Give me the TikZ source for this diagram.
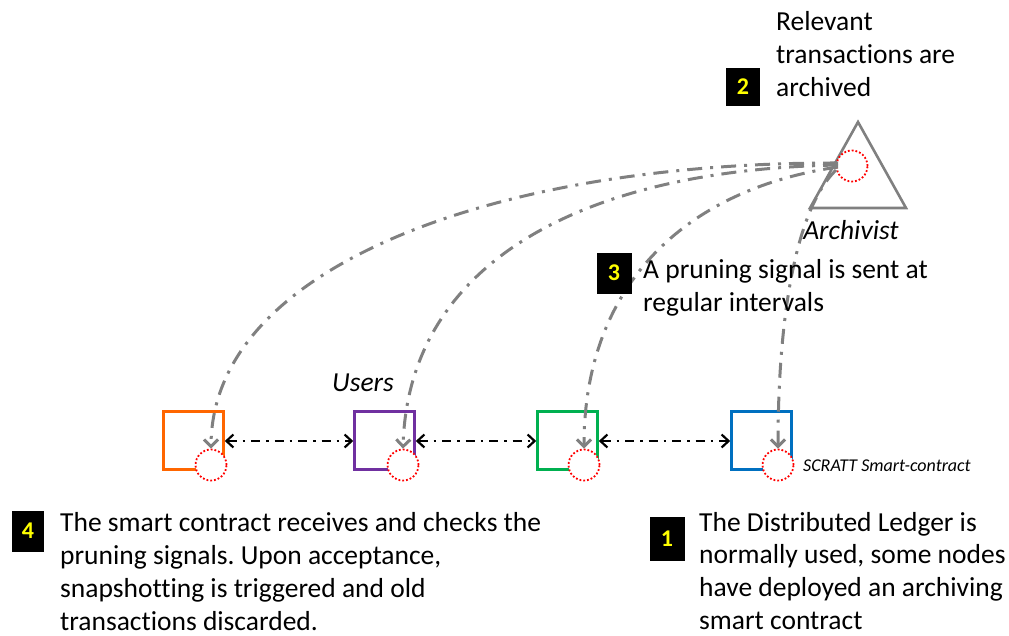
\documentclass[tikz,border=0pt]{standalone}
\usepackage{fontspec}
\setmainfont{Carlito}[Ligatures=NoCommon]
\frenchspacing
\usetikzlibrary{arrows.meta}
\definecolor{corange}{RGB}{255,102,0}
\definecolor{cpurple}{RGB}{112,48,160}
\definecolor{cgreen}{RGB}{0,176,80}
\definecolor{cblue}{RGB}{0,112,192}
\definecolor{cgray}{RGB}{128,128,128}
\definecolor{cyel}{RGB}{255,255,0}
\tikzset{
  ledger/.style={draw=#1, line width=2.6pt, minimum width=60pt, minimum height=58pt, inner sep=0pt},
  sc/.style={draw=red, fill=white, circle, dotted, line width=1.8pt, minimum size=31pt, inner sep=0pt},
  badge/.style={fill=black, text=cyel, font=\fontsize{24}{24}\selectfont\bfseries, minimum width=35pt, minimum height=41pt, inner sep=0pt},
  body/.style={align=left, anchor=north west, inner sep=0pt, font=\fontsize{27.5}{33}\selectfont},
  lbl/.style={font=\fontsize{27.5}{27.5}\selectfont\itshape, inner sep=0pt},
  peer/.style={black, line width=2.2pt, dash pattern=on 9pt off 6pt on 2.5pt off 6pt, {Straight Barb[length=7pt,width=13pt]}-{Straight Barb[length=7pt,width=13pt]}},
  signal/.style={cgray, line width=3pt, dash pattern=on 15pt off 8pt on 3pt off 8pt, -{Straight Barb[length=7pt,width=14pt,line width=3pt]}},
}
\begin{document}
\begin{tikzpicture}[x=1pt,y=-1pt]
\useasboundingbox (0,0) rectangle (1009,635);
% ledger nodes
\node[ledger=corange] (n1) at (193.5,440.5) {};
\node[ledger=cpurple] (n2) at (384.5,440.5) {};
\node[ledger=cgreen] (n3) at (567.5,440.5) {};
\node[ledger=cblue] (n4) at (761.5,440.5) {};
\node[sc] (c1) at (211,465) {};
\node[sc] (c2) at (403,465) {};
\node[sc] (c3) at (584,465) {};
\node[sc] (c4) at (778,465) {};
% archivist
\coordinate (ta) at (858,122);
\coordinate (tl) at (810,208);
\coordinate (tr) at (906,208);
\draw[cgray, line width=2.6pt, line join=miter] (ta) -- (tr) -- (tl) -- cycle;
\node[sc] (ca) at (852,166) {};
\node[lbl] (arch) at (851,230) {Archivist};
\node[lbl] (users) at (363,383) {Users};
\node[font=\fontsize{18}{18}\selectfont\itshape, anchor=west, inner sep=0pt] (scl) at (803,466) {SCRATT Smart-contract};
% peer links
\draw[peer] (n1.east |- 0,441) -- (n2.west |- 0,441);
\draw[peer] (n2.east |- 0,441) -- (n3.west |- 0,441);
\draw[peer] (n3.east |- 0,441) -- (n4.west |- 0,441);
% signals
\coordinate (s1) at (838,163);
\coordinate (s2) at (838,165);
\coordinate (s3) at (838,167);
\coordinate (s4) at (836,170);
\draw[signal] (s1) .. controls (500,162) and (212,265) .. (c1.north);
\draw[signal] (s2) .. controls (570,170) and (408,270) .. (c2.north);
\draw[signal] (s3) .. controls (680,190) and (584,290) .. (c3.north);
\draw[signal] (s4) .. controls (795,210) and (778,320) .. (c4.north);
% badges and texts
\node[badge, minimum width=34pt, minimum height=38pt] (b2) at (743,87) {2};
\node[badge] (b3) at (614,273) {3};
\node[badge, minimum width=32pt] (b4) at (28,531) {4};
\node[badge, minimum height=44pt] (b1) at (667,539) {1};
\node[body] (t2) at (776,11) {Relevant\\transactions are\\archived};
\node[body] (t3) at (643,259) {A pruning signal is sent at\\regular intervals};
\node[body] (t4) at (60,512) {The smart contract receives and checks the\\pruning signals. Upon acceptance,\\snapshotting is triggered and old\\transactions discarded.};
\node[body, font=\fontsize{27.5}{32.6}\selectfont] (t1) at (699,512) {The Distributed Ledger is\\normally used, some nodes\\have deployed an archiving\\smart contract};
\end{tikzpicture}
\end{document}
